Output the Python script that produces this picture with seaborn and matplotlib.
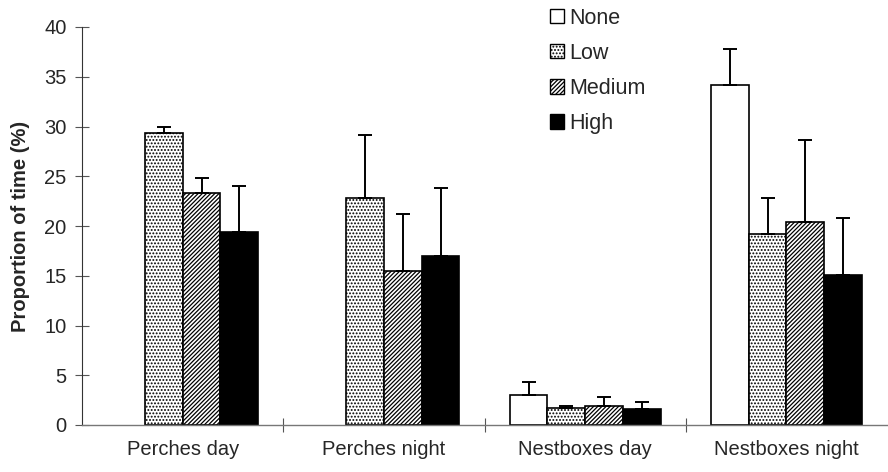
import numpy as np
import pandas as pd
import matplotlib
matplotlib.use("Agg")
import matplotlib.pyplot as plt
from matplotlib.patches import Patch
import seaborn as sns

# Data (NaN = no bar)
categories = ['Perches day', 'Perches night', 'Nestboxes day', 'Nestboxes night']
levels = ['None', 'Low', 'Medium', 'High']
none_mean = [np.nan, np.nan, 3.0, 34.2]
low_mean = [29.3, 22.8, 1.7, 19.2]
medium_mean = [23.3, 15.5, 1.9, 20.4]
high_mean = [19.4, 17.0, 1.6, 15.1]
none_err = [np.nan, np.nan, 1.3, 3.6]
low_err = [0.6, 6.3, 0.2, 3.6]
medium_err = [1.5, 5.7, 0.9, 8.2]
high_err = [4.6, 6.8, 0.7, 5.7]

means = {'None': none_mean, 'Low': low_mean, 'Medium': medium_mean, 'High': high_mean}
errs = {'None': none_err, 'Low': low_err, 'Medium': medium_err, 'High': high_err}

rows = []
for lev in levels:
    for i, cat in enumerate(categories):
        rows.append({'category': cat, 'level': lev, 'value': means[lev][i]})
df = pd.DataFrame(rows).dropna()

sns.set_style('white')
plt.rcParams['font.family'] = ['Liberation Sans', 'DejaVu Sans']
plt.rcParams['hatch.linewidth'] = 0.9

fig = plt.figure(figsize=(8.88, 4.72), dpi=100)
ax = fig.add_axes([82 / 888, 1 - 425 / 472, 1 - 82 / 888 - 0.001, (425 - 27) / 472])

faces = {'None': 'white', 'Low': 'white', 'Medium': 'white', 'High': 'black'}
hatches = {'None': '', 'Low': '.....', 'Medium': '////////', 'High': ''}

sns.barplot(data=df, x='category', y='value', hue='level', order=categories,
            hue_order=levels, palette=faces, edgecolor='black', linewidth=1.2,
            width=0.75, errorbar=None, legend=False, ax=ax)

# hatches and upper-only error bars
for lev, cont in zip(levels, ax.containers):
    for p in cont.patches:
        p.set_hatch(hatches[lev])
        xc = p.get_x() + p.get_width() / 2
        ci = int(round(xc))
        e = errs[lev][ci]
        if np.isnan(e):
            continue
        ax.errorbar(xc, p.get_height(), yerr=[[0], [e]], fmt='none',
                    ecolor='black', elinewidth=1.4, capsize=5, capthick=1.4)

ax.set_xlim(-0.5, 3.5)
ax.set_ylim(0, 40)
ax.set_yticks(range(0, 41, 5))
ax.set_xlabel('')
ax.set_ylabel('Proportion of time (%)', fontsize=14.5, fontweight='bold', labelpad=10)
ax.tick_params(axis='x', which='major', bottom=True, length=0, labelsize=14.5, pad=11)
ax.set_xticks([0.5, 1.5, 2.5], minor=True)
ax.tick_params(axis='x', which='minor', bottom=True, length=10, direction='inout',
               width=0.8, color='#555555')
ax.tick_params(axis='y', left=True, length=10, direction='inout', width=0.8,
               labelsize=14.5, pad=6, color='#555555')
sns.despine(ax=ax)
ax.spines['left'].set_color('#333333')
ax.spines['bottom'].set_color('#777777')
ax.spines['left'].set_linewidth(0.8)
ax.spines['bottom'].set_linewidth(1.0)

handles = [Patch(facecolor=faces[l], edgecolor='black', hatch=hatches[l], linewidth=1.0) for l in levels]
fig.legend(handles, levels, loc='upper left', bbox_to_anchor=(541 / 888, 1 + 1 / 472),
           frameon=False, fontsize=15.5, handlelength=0.65, handleheight=0.65,
           handletextpad=0.28, labelspacing=0.66, borderaxespad=0)

fig.savefig('out.png', dpi=100)
